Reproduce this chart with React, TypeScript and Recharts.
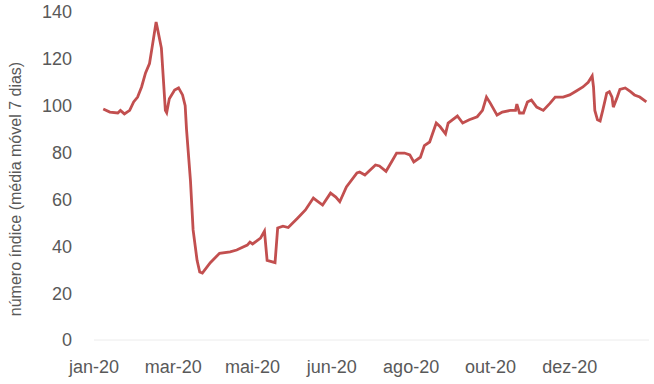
import { Line, LineChart, XAxis, YAxis } from "recharts";

// x position in days from the first tick, one tick label every 60 days
const days = [
  7, 12, 18, 20, 23, 27, 30, 33, 36, 39,
  42, 44, 47, 48, 51, 54, 55, 57, 61, 64,
  67, 69, 70, 73, 75, 78, 80, 82, 88, 95,
  103, 108, 116, 118, 120, 126, 129, 131, 137, 139,
  143, 147, 154, 160, 166, 169, 173, 179, 183, 186,
  191, 199, 201, 205, 213, 216, 221, 226, 229, 235,
  239, 242, 247, 250, 254, 259, 262, 266, 268, 275,
  279, 284, 290, 294, 297, 300, 305, 309, 315, 319,
  320, 322, 325, 328, 331, 335, 340, 345, 349, 355,
  360, 365, 370, 374, 377, 378, 379, 381, 383, 385,
  388, 390, 392, 393, 396, 398, 402, 406, 409, 413,
  418,
];

const indexValues = [
  98.6, 97.3, 96.9, 98, 96.5, 98, 101.6, 103.7, 108, 114,
  118, 125, 135.7, 133, 124.6, 98, 97, 103, 106.7, 107.6,
  104.6, 100, 90, 68, 47, 34, 29, 28.6, 33, 37,
  37.6, 38.4, 40.5, 41.8, 41, 43.5, 46.5, 34, 33, 47.8,
  48.6, 48, 52, 55.5, 60.6, 59.3, 57.6, 62.7, 61, 59,
  65.3, 71.3, 71.7, 70.4, 74.7, 74.3, 72, 76.8, 79.8, 79.8,
  79, 76, 78, 83, 84.5, 92.6, 91, 88, 92.6, 95.6,
  92.6, 94, 95.3, 98, 103.7, 101, 96, 97.3, 98, 98,
  100.7, 96.9, 96.9, 101.6, 102.4, 99.4, 98, 101, 103.7, 103.7,
  104.6, 106.3, 108, 110, 112.7, 108, 98, 94, 93.5, 98,
  105.4, 106, 103.7, 99.4, 103.7, 107, 107.6, 106, 104.6, 103.7,
  101.6,
];

const tickDays = [0, 60, 120, 180, 240, 300, 360];
const tickLabels = ["jan-20", "mar-20", "mai-20", "jun-20", "ago-20", "out-20", "dez-20"];
const yTicks = [0, 20, 40, 60, 80, 100, 120, 140];

const data = days.map((d, i) => ({ day: d, value: indexValues[i] }));

const FONT = "'Liberation Sans', Arial, sans-serif";
const TEXT = "#595959";

function YLabel() {
  return (
    <text
      x={15}
      y={189}
      transform="rotate(-90 15 189)"
      textAnchor="middle"
      dominantBaseline="central"
      fill={TEXT}
      fontSize={16}
      fontFamily={FONT}
    >
      número índice (média móvel 7 dias)
    </text>
  );
}

export default function App() {
  return (
    <div style={{ position: "fixed", left: 0, top: 0, width: 654, height: 384, background: "#fff" }}>
      <LineChart
        width={654}
        height={384}
        data={data}
        margin={{ top: 12, right: 5, bottom: 14, left: 0 }}
      >
        <XAxis
          dataKey="day"
          type="number"
          domain={[0, 420]}
          ticks={tickDays}
          tickFormatter={(v: number) => tickLabels[tickDays.indexOf(v)] ?? ""}
          axisLine={{ stroke: "#ececec", strokeWidth: 1 }}
          tickLine={false}
          tickSize={0}
          tickMargin={20}
          tick={{ fill: TEXT, fontSize: 18, fontFamily: FONT }}
          interval={0}
          height={30}
        />
        <YAxis
          type="number"
          domain={[0, 140]}
          ticks={yTicks}
          width={94}
          axisLine={false}
          tickLine={false}
          tickSize={0}
          tickMargin={22}
          tick={{ fill: TEXT, fontSize: 18, fontFamily: FONT }}
          interval={0}
          label={<YLabel />}
        />
        <Line
          type="linear"
          dataKey="value"
          stroke="#c24f4f"
          strokeWidth={2.8}
          dot={false}
          isAnimationActive={false}
        />
      </LineChart>
    </div>
  );
}
